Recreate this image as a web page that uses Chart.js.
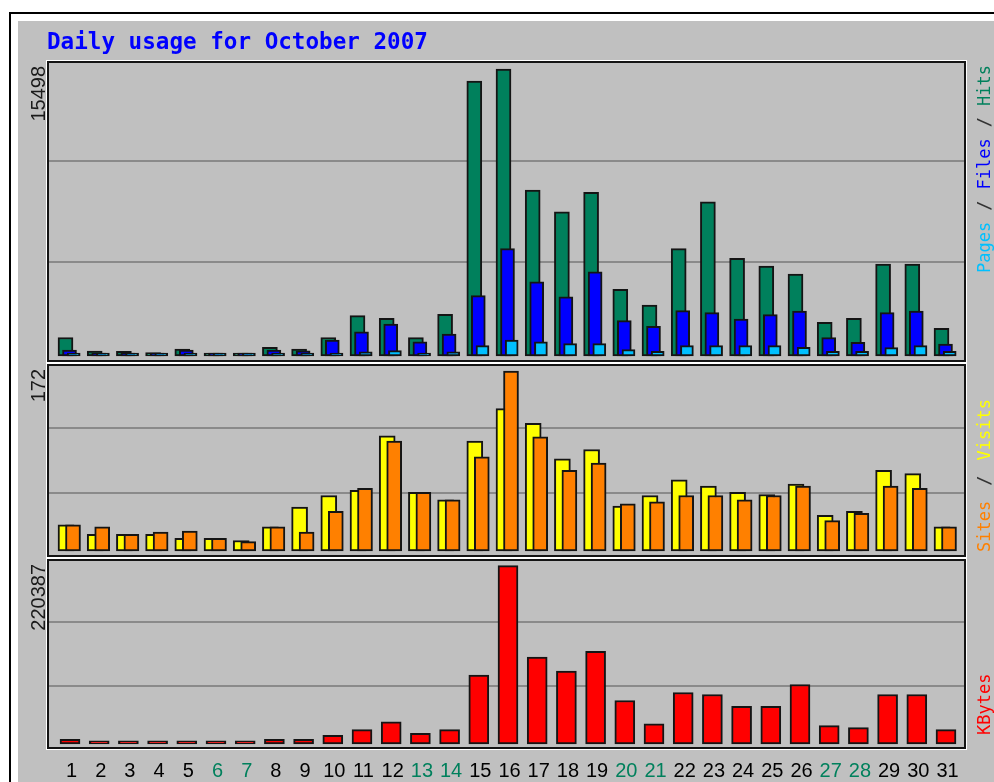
<!DOCTYPE html>
<html>
<head>
<meta charset="utf-8">
<title>Daily usage for October 2007</title>
<script src="https://cdn.jsdelivr.net/npm/chart.js@4.4.1/dist/chart.umd.min.js"></script>
<style>
  html, body { margin: 0; padding: 0; background: #fff; }
  canvas { display: block; }
</style>
</head>
<body>
<canvas id="usageChart" width="994" height="782"></canvas>
<script>
const titleText = 'Daily usage for October 2007';
const days = [1, 2, 3, 4, 5, 6, 7, 8, 9, 10, 11, 12, 13, 14, 15, 16, 17, 18, 19, 20, 21, 22, 23, 24, 25, 26, 27, 28, 29, 30, 31];
const weekendDays = [6, 7, 13, 14, 20, 21, 27, 28];

const hits = [1000, 260, 250, 180, 380, 150, 150, 470, 380, 1000, 2180, 2040, 990, 2250, 14850, 15498, 8960, 7790, 8840, 3600, 2750, 5800, 8330, 5270, 4860, 4430, 1820, 2030, 4970, 4970, 1500];
const files = [320, 60, 60, 60, 320, 60, 60, 320, 280, 860, 1310, 1730, 770, 1190, 3260, 5800, 4010, 3190, 4550, 1910, 1600, 2450, 2340, 2000, 2230, 2430, 990, 740, 2340, 2430, 650];
const pages = [60, 30, 30, 30, 60, 30, 30, 60, 60, 100, 230, 290, 100, 230, 560, 860, 760, 670, 670, 340, 250, 560, 560, 560, 560, 470, 250, 250, 450, 560, 250];
const visits = [25, 16, 16, 16, 12, 12, 10, 23, 42, 53, 58, 110, 56, 49, 105, 136, 122, 88, 97, 43, 53, 68, 62, 56, 54, 64, 34, 38, 77, 74, 23];
const sites = [25, 23, 16, 18, 19, 12, 9, 23, 18, 38, 60, 105, 56, 49, 90, 172, 109, 77, 84, 45, 47, 53, 53, 49, 53, 62, 29, 36, 62, 60, 23];
const kbytes = [5800, 4000, 4000, 4000, 4000, 4000, 4000, 5800, 5800, 10800, 17700, 27300, 13200, 17700, 85200, 220387, 107500, 90200, 114600, 53800, 24800, 63700, 61200, 46700, 46700, 73600, 22700, 20200, 61200, 61200, 17800];

// geometry of the picture, in pixels
const areaLeft = 46, areaRight = 967, areaTop = 60, areaBottom = 750;
const firstSlot = 58, dayWidth = 29.2;
const panelHeights = [303, 195, 192];
const gridColor = '#8a8a8a';
const frameColor = '#141414';

function xAxisAt(center, visible) {
  // a linear x axis where day d lands at (slot start + center) pixels
  var start = 1 - (firstSlot + center - areaLeft) / dayWidth;
  return {
    type: 'linear',
    display: !!visible,
    offset: false,
    bounds: 'data',
    min: start,
    max: start + (areaRight - areaLeft) / dayWidth,
    grid: { display: false, offset: false }
  };
}

function panelAxis(maxValue, height, topGap, bottomGap, weight) {
  var perPx = maxValue / (height - topGap - bottomGap);
  return {
    type: 'linear',
    position: 'left',
    stack: 'panels',
    stackWeight: height,
    weight: weight,
    min: -bottomGap * perPx,
    max: maxValue + topGap * perPx,
    ticks: { display: false },
    border: { display: false },
    grid: { color: gridColor, lineWidth: 2, drawTicks: false },
    afterBuildTicks: function(scale) {
      var span = scale.max - scale.min;
      scale.ticks = [1, 2].map(k => ({ value: scale.min + span * k / 3 }));
    }
  };
}

function barSet(label, values, color, axisX, axisY, thickness, order) {
  return {
    label: label,
    data: days.map((d, i) => ({ x: d, y: values[i] })),
    xAxisID: axisX,
    yAxisID: axisY,
    backgroundColor: color,
    borderColor: frameColor,
    borderWidth: 2,
    borderSkipped: false,
    barThickness: thickness,
    minBarLength: 3,
    grouped: false,
    order: order
  };
}

function drawUp(ctx, text, x, y, color) {
  // text rotated to read bottom to top, starting at y
  ctx.save();
  ctx.translate(x, y);
  ctx.rotate(-Math.PI / 2);
  ctx.fillStyle = color;
  ctx.textAlign = 'left';
  ctx.textBaseline = 'alphabetic';
  ctx.fillText(text, 0, 0);
  ctx.restore();
}

function drawSpread(ctx, parts, x, yStart, yEnd) {
  // spread the pieces of a side label evenly between yStart and yEnd
  var widths = parts.map(p => ctx.measureText(p[0]).width);
  var total = widths.reduce((a, b) => a + b, 0);
  var gap = (yStart - yEnd - total) / (parts.length - 1);
  var y = yStart;
  parts.forEach((p, i) => {
    drawUp(ctx, p[0], x, y, p[1]);
    y -= widths[i] + gap;
  });
}

const pagePlugin = {
  id: 'pagePlugin',
  beforeDraw(chart) {
    const ctx = chart.ctx;
    ctx.save();
    ctx.fillStyle = '#ffffff';
    ctx.fillRect(0, 0, chart.width, chart.height);
    ctx.fillStyle = '#000000';
    ctx.fillRect(9, 12, 2, chart.height - 12);
    ctx.fillRect(9, 12, chart.width - 9, 2);
    ctx.fillStyle = '#c0c0c0';
    ctx.fillRect(18, 21, chart.width - 18, chart.height - 21);
    ctx.restore();
  },
  beforeDatasetsDraw(chart) {
    const ctx = chart.ctx;
    const area = chart.chartArea;
    ctx.save();
    ['yTraffic', 'yVisits', 'yBytes'].forEach(id => {
      const s = chart.scales[id];
      const w = area.right - area.left, h = s.bottom - s.top;
      ctx.strokeStyle = '#ffffff';
      ctx.lineWidth = 1;
      ctx.strokeRect(area.left + 0.5, s.top + 0.5, w - 1, h - 1);
      ctx.strokeStyle = frameColor;
      ctx.lineWidth = 2;
      ctx.strokeRect(area.left + 2, s.top + 2, w - 4, h - 4);
    });
    ctx.restore();
  },
  afterDraw(chart) {
    const ctx = chart.ctx;
    ctx.save();
    ctx.font = 'bold 22.6px "DejaVu Sans Mono"';
    ctx.fillStyle = '#0000ff';
    ctx.textBaseline = 'alphabetic';
    ctx.fillText(titleText, 47, 49);

    // maximum of each panel, on the left
    ctx.font = '20px "Liberation Sans"';
    ctx.textAlign = 'right';
    [[Math.max(...hits), 'yTraffic'], [Math.max(...visits, ...sites), 'yVisits'], [Math.max(...kbytes), 'yBytes']].forEach(m => {
      const s = chart.scales[m[1]];
      ctx.save();
      ctx.translate(45, s.top + 6);
      ctx.rotate(-Math.PI / 2);
      ctx.fillStyle = '#1a1a1a';
      ctx.fillText(String(m[0]), 0, 0);
      ctx.restore();
    });

    // series names, on the right
    ctx.font = '17px "DejaVu Sans Mono"';
    ctx.textAlign = 'left';
    drawSpread(ctx, [['Pages', '#00c0ff'], ['/', '#333333'], ['Files', '#0000ff'], ['/', '#333333'], ['Hits', '#00805c']], 990, 273, 65);
    drawSpread(ctx, [['Sites', '#ff8000'], ['/', '#333333'], ['Visits', '#ffff00']], 990, 552, 399);
    drawUp(ctx, 'KBytes', 990, 735, '#ff0000');
    ctx.restore();
  }
};

new Chart(document.getElementById('usageChart'), {
  type: 'bar',
  data: {
    datasets: [
      barSet('Pages', pages, '#00c0ff', 'xPages', 'yTraffic', 13, 0),
      barSet('Files', files, '#0000ff', 'xFiles', 'yTraffic', 14, 1),
      barSet('Hits', hits, '#00805c', 'xHits', 'yTraffic', 15, 2),
      barSet('Sites', sites, '#ff8000', 'xSites', 'yVisits', 15, 0),
      barSet('Visits', visits, '#ffff00', 'xVisits', 'yVisits', 16, 1),
      barSet('KBytes', kbytes, '#ff0000', 'xBytes', 'yBytes', 20, 0)
    ]
  },
  options: {
    responsive: false,
    animation: false,
    devicePixelRatio: 1,
    layout: {
      padding: { left: areaLeft, top: areaTop, right: 994 - areaRight, bottom: 0 }
    },
    plugins: {
      legend: { display: false },
      tooltip: { enabled: false },
      title: { display: false }
    },
    scales: {
      x: Object.assign(xAxisAt(13.5, true), {
        position: 'bottom',
        border: { display: false },
        afterBuildTicks: function(scale) {
          scale.ticks = days.map(d => ({ value: d }));
        },
        afterFit: function(scale) {
          scale.height = 782 - areaBottom;
        },
        ticks: {
          autoSkip: false,
          maxRotation: 0,
          padding: 1,
          font: { family: 'Liberation Sans', size: 20, lineHeight: 1.2 },
          color: function(context) {
            return weekendDays.includes(context.tick && context.tick.value) ? '#00805c' : '#000000';
          },
          callback: function(value) { return String(value); }
        }
      }),
      xHits: xAxisAt(7.5),
      xFiles: xAxisAt(11.5),
      xPages: xAxisAt(15.7),
      xVisits: xAxisAt(8),
      xSites: xAxisAt(15),
      xBytes: xAxisAt(12),
      yTraffic: panelAxis(Math.max(...hits), panelHeights[0], 9, 7, 3),
      yVisits: panelAxis(Math.max(...visits, ...sites), panelHeights[1], 8, 7, 2),
      yBytes: panelAxis(Math.max(...kbytes), panelHeights[2], 7.7, 6, 1)
    }
  },
  plugins: [pagePlugin]
});
</script>
</body>
</html>
